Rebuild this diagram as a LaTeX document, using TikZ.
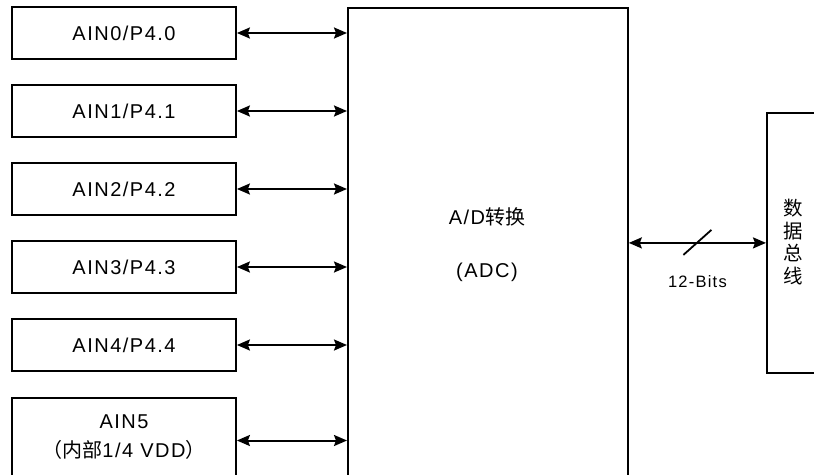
\documentclass[tikz,border=0pt]{standalone}
\usepackage{fontspec}
\setmainfont[LetterSpace=7.5]{Liberation Sans}
\newfontfamily\cjk{Noto Sans CJK SC}
\usetikzlibrary{arrows.meta,calc,positioning}

\begin{document}
\begin{tikzpicture}[
  x=1pt, y=-1pt,
  ain/.style={draw, line width=1.8pt, minimum width=224pt, minimum height=52pt, inner sep=0pt, align=center, font=\fontsize{20}{29}\selectfont},
  block/.style={draw, line width=1.8pt, inner sep=0pt},
  txt/.style={font=\fontsize{20}{23}\selectfont, inner sep=0pt},
  arr/.style={arrows={Stealth[length=13pt,width=11pt,inset=2pt]-Stealth[length=13pt,width=11pt,inset=2pt]}, line width=2pt}
]
\useasboundingbox (0,0) rectangle (814,474);
\clip (0,0) rectangle (814,474);
\node[ain] (ain0) at (124,33) {AIN0/P4.0};
\node[ain] (ain1) at (124,111) {AIN1/P4.1};
\node[ain] (ain2) at (124,189) {AIN2/P4.2};
\node[ain] (ain3) at (124,267) {AIN3/P4.3};
\node[ain] (ain4) at (124,345) {AIN4/P4.4};
\node[ain, minimum height=79pt] (ain5) at (124,437.5) {AIN5\\{\cjk （内部}1/4 VDD{\cjk ）}};
\node[block, minimum width=280pt, minimum height=490pt, anchor=north west] (adc) at (347,7) {};
\node[txt] (adcname) at (487,217) {A/D{\cjk 转换}};
\node[txt] (adcshort) at (487,272) {(ADC)};
\node[block, minimum width=80pt, minimum height=260pt, anchor=north west] (bus) at (766,112) {};
\node[align=center, inner sep=0pt, font=\cjk\fontsize{19.5}{22.5}\selectfont] (busname) at (793,242) {数\\据\\总\\线};

\foreach \i in {0,...,4}
  \draw[arr] (ain\i.east) -- (ain\i.east -| adc.west);
\draw[arr] ($(ain5.east)+(0,3)$) coordinate (ain5out) -- (ain5out -| adc.west);
\draw[arr] (bus.west -| adc.east) -- coordinate (busmid) (bus.west);
\draw[line width=1.8pt] ($(busmid)+(-14,12)$) -- ($(busmid)+(14,-13)$);
\node[font=\fontsize{16.5}{18}\selectfont, inner sep=0pt] (bits) at ($(busmid)+(0,39)$) {12-Bits};
\end{tikzpicture}
\end{document}
